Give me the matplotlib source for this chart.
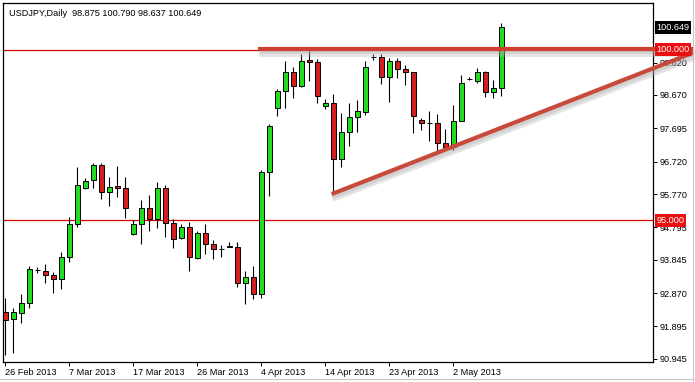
import matplotlib
matplotlib.use("Agg")
import matplotlib.pyplot as plt
import matplotlib.patheffects as pe
from matplotlib.transforms import blended_transform_factory
from matplotlib.lines import Line2D

# ---- data (USDJPY daily, 26 Feb 2013 .. 9 May 2013, one bar per session incl. Sundays)
opens = [92.33, 92.11, 92.30, 92.57, 93.55, 93.53, 93.39, 93.28, 93.92, 94.89,
         95.94, 96.17, 96.61, 95.82, 96.00, 95.94, 94.59, 94.89, 95.35, 95.05,
         95.94, 94.92, 94.49, 94.82, 93.89, 94.62, 94.30, 94.16, 94.25, 94.23,
         93.16, 93.34, 92.84, 96.42, 98.28, 98.79, 99.33, 98.94, 99.69, 99.63,
         98.35, 98.43, 96.79, 97.60, 98.04, 98.18, 99.77, 99.79, 99.19, 99.67,
         99.43, 99.33, 97.94, 97.86, 97.86, 97.26, 97.14, 97.92, 99.13, 99.09,
         99.35, 98.77, 98.875]
highs = [92.73, 92.44, 92.85, 93.67, 93.64, 93.72, 93.50, 94.08, 95.09, 96.55,
         96.23, 96.69, 96.69, 96.26, 96.59, 96.26, 95.01, 95.60, 95.74, 96.12,
         96.04, 95.04, 94.89, 94.94, 94.70, 94.89, 94.43, 94.28, 94.36, 94.36,
         93.53, 93.67, 96.48, 97.82, 98.85, 99.67, 99.50, 99.87, 99.96, 99.72,
         98.55, 98.70, 98.13, 98.43, 98.52, 99.67, 99.86, 99.87, 99.74, 99.74,
         99.55, 99.35, 98.01, 98.20, 98.11, 97.67, 98.38, 99.26, 99.21, 99.47,
         99.36, 99.11, 100.790]
lows = [91.06, 91.12, 92.00, 92.44, 93.46, 93.17, 92.88, 92.98, 93.77, 94.82,
        95.93, 95.94, 95.62, 95.43, 95.68, 95.06, 94.58, 94.30, 94.70, 94.77,
        94.52, 94.18, 94.46, 93.52, 93.86, 94.01, 93.86, 93.92, 94.21, 93.04,
        92.55, 92.69, 92.72, 95.72, 98.06, 98.28, 98.57, 98.90, 99.09, 98.44,
        98.25, 95.77, 96.57, 97.18, 97.60, 98.09, 99.69, 98.98, 98.47, 99.18,
        98.96, 97.55, 97.65, 97.32, 97.01, 97.06, 97.06, 97.91, 99.11, 99.01,
        98.62, 98.57, 98.637]
closes = [92.09, 92.31, 92.57, 93.57, 93.54, 93.40, 93.28, 93.92, 94.89, 96.03,
          96.16, 96.61, 95.82, 95.99, 95.94, 95.35, 94.89, 95.35, 95.03, 95.94,
          94.92, 94.45, 94.82, 93.92, 94.62, 94.30, 94.15, 94.16, 94.21, 93.16,
          93.34, 92.84, 96.42, 97.76, 98.80, 99.33, 98.94, 99.67, 99.63, 98.64,
          98.43, 96.79, 97.60, 98.04, 98.20, 99.48, 99.77, 99.19, 99.67, 99.42,
          99.33, 98.06, 97.84, 97.86, 97.26, 97.14, 97.92, 99.01, 99.13, 99.35,
          98.77, 98.87, 100.649]

date_tick_bars = [0, 8, 16, 24, 32, 40, 48, 56]
date_tick_labels = ["26 Feb 2013", "7 Mar 2013", "17 Mar 2013", "26 Mar 2013",
                    "4 Apr 2013", "14 Apr 2013", "23 Apr 2013", "2 May 2013"]
price_ticks = [99.620, 98.670, 97.695, 96.720, 95.770, 94.795,
               93.845, 92.870, 91.895, 90.945]
level_lines = [100.000, 95.000]
last_price = 100.649
resistance_level = 100.03
resistance_x = [31.6, 86.0]
trend_x = [40.8, 86.0]
trend_y = [95.77, 99.91]
title_text = "USDJPY,Daily  98.875 100.790 98.637 100.649"

# ---- figure
W, H = 695, 382
fig = plt.figure(figsize=(W / 100, H / 100), dpi=100, facecolor="white")
ax_left, ax_right, ax_top, ax_bot = 3.5, 653, 3, 362
ax = fig.add_axes([ax_left / W, (H - ax_bot) / H, (ax_right - ax_left) / W, (ax_bot - ax_top) / H])
ax.set_facecolor("white")

FONT = "Liberation Sans"
FS = 6.6

n = len(opens)
xs = list(range(n))
green, red = "#1fdc1f", "#d41f1f"
colors = [green if c >= o else red for o, c in zip(opens, closes)]

ax.vlines(xs, lows, highs, color="black", lw=0.8, zorder=3)
ax.bar(xs, [c - o for o, c in zip(opens, closes)], bottom=opens, width=0.6,
       color=colors, edgecolor="black", linewidth=0.7, zorder=4)

# thin level lines
for lv in level_lines:
    ax.axhline(lv, color="#dc0000", lw=0.9, zorder=2)

# hand-drawn annotation lines with soft shadow
shadow = [pe.SimpleLineShadow(offset=(0.6, -3.0), shadow_color="#b0b0b0", alpha=0.35, linewidth=5.0),
          pe.SimpleLineShadow(offset=(0.3, -2.0), shadow_color="#a0a0a0", alpha=0.25, linewidth=3.5),
          pe.Normal()]
ax.plot(resistance_x, [resistance_level, resistance_level], color="#cc4030", lw=3.0,
        solid_capstyle="butt", clip_on=False, zorder=6, path_effects=shadow)
ax.plot(trend_x, trend_y, color="#c84a3a", lw=3.0, solid_capstyle="butt",
        clip_on=False, zorder=6, path_effects=shadow)

ax.set_xlim(-0.225, 80.96)
ax.set_ylim(90.856, 101.362)

# axes styling
for s in ax.spines.values():
    s.set_color("black")
    s.set_linewidth(0.9)

ax.yaxis.tick_right()
ax.set_yticks(price_ticks)
ax.set_yticklabels([f"{v:.3f}" for v in price_ticks], fontfamily=FONT, fontsize=FS)
ax.tick_params(axis="y", direction="out", length=3, width=0.7, pad=1.5, colors="black")

ax.set_xticks(date_tick_bars)
ax.set_xticklabels(date_tick_labels, fontfamily=FONT, fontsize=FS, ha="left")
ax.tick_params(axis="x", direction="out", length=3, width=0.7, pad=1.5, colors="black")

# price boxes on the right
trans = blended_transform_factory(ax.transAxes, ax.transData)
box_x = 1.0 + 3.5 / (ax_right - ax_left)
for lv in level_lines:
    ax.text(box_x, lv, f"{lv:.3f}", transform=trans, ha="left", va="center",
            fontfamily=FONT, fontsize=FS, color="white", zorder=10, clip_on=False,
            bbox=dict(boxstyle="square,pad=0.18", fc="#e81010", ec="none"))
ax.text(box_x, last_price, f"{last_price:.3f}", transform=trans, ha="left", va="center",
        fontfamily=FONT, fontsize=FS, color="white", zorder=10, clip_on=False,
        bbox=dict(boxstyle="square,pad=0.18", fc="black", ec="none"))

# title
fig.text(9 / W, 1 - 13.3 / H, title_text, ha="left", va="center",
         fontfamily=FONT, fontsize=FS, color="black")

# window border lines
fig.add_artist(Line2D([693 / W, 693 / W], [0, 1], transform=fig.transFigure, color="#c8c8c8", lw=0.8))
fig.add_artist(Line2D([0, 1], [3 / H, 3 / H], transform=fig.transFigure, color="#c8c8c8", lw=0.8))

fig.savefig("out.png", dpi=100, facecolor="white")
